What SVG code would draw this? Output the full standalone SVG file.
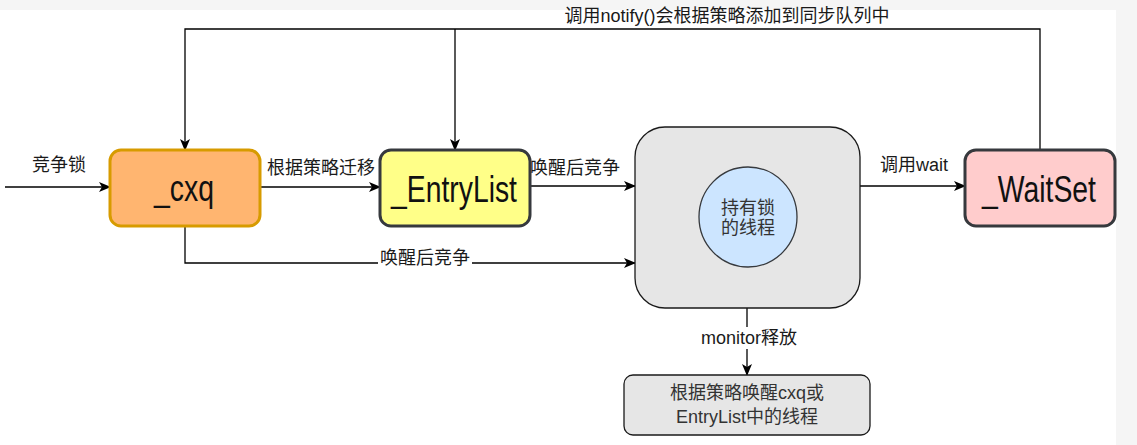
<svg xmlns="http://www.w3.org/2000/svg" width="1137" height="445" viewBox="0 0 1137 445">
<defs>
<marker id="arr" viewBox="0 0 12 10" refX="11" refY="5" markerWidth="12" markerHeight="10" markerUnits="userSpaceOnUse" orient="auto">
<path d="M0,0 L12,5 L0,10 L3,5 Z" fill="#000"/>
</marker>
</defs>
<style>
.lbl{font-family:"Liberation Sans","Noto Sans CJK SC",sans-serif;font-size:18px;fill:#1a1a1a;text-anchor:middle}
.big{font-family:"Liberation Sans",Arial,sans-serif;font-size:37px;fill:#111;text-anchor:middle}
.edge{fill:none;stroke:#000;stroke-width:1.3}
.node{stroke-width:3}
</style>
<rect x="0" y="0" width="1137" height="445" fill="#f5f5f5"/>
<rect x="0" y="10" width="1116" height="435" fill="#ffffff"/>

<g id="connectors">
<path class="edge" d="M5,187 L110,187" marker-end="url(#arr)"/>
<path class="edge" d="M260,187 L380,187" marker-end="url(#arr)"/>
<path class="edge" d="M530,186 L635,186" marker-end="url(#arr)"/>
<path class="edge" d="M185,226 L185,263 L635,263" marker-end="url(#arr)"/>
<path class="edge" d="M860,186 L965,186" marker-end="url(#arr)"/>
<path class="edge" d="M1040,150 L1040,29 L185,29 L185,150" marker-end="url(#arr)"/>
<path class="edge" d="M455,29 L455,150" marker-end="url(#arr)"/>
<path class="edge" d="M747,308 L747,375" marker-end="url(#arr)"/>
<text class="lbl" x="727" y="22">调用notify()会根据策略添加到同步队列中</text>
<text class="lbl" x="59" y="171">竞争锁</text>
<text class="lbl" x="321" y="174">根据策略迁移</text>
<text class="lbl" x="575" y="174">唤醒后竞争</text>
<text class="lbl" x="914" y="171">调用wait</text>
<rect x="378" y="248" width="94" height="20" fill="#fff"/>
<text class="lbl" x="425" y="264">唤醒后竞争</text>
<rect x="700" y="327" width="100" height="22" fill="#fff"/>
<text class="lbl" x="749" y="344">monitor释放</text>
</g>

<g id="cxq">
<rect class="node" x="110" y="150" width="150" height="76" rx="11" fill="#FFB570" stroke="#D79B00"/>
<text class="big" x="184" y="201" textLength="60" lengthAdjust="spacingAndGlyphs">_cxq</text>
</g>

<g id="entrylist">
<rect class="node" x="380" y="150" width="150" height="76" rx="11" fill="#FFFF88" stroke="#36393D"/>
<text class="big" x="454" y="202" textLength="126" lengthAdjust="spacingAndGlyphs">_EntryList</text>
</g>

<g id="monitor">
<rect x="635" y="127" width="225" height="181" rx="30" fill="#E6E6E6" stroke="#1a1a1a" stroke-width="1.3"/>
</g>

<g id="owner">
<ellipse cx="748" cy="217" rx="49" ry="50" fill="#CCE5FF" stroke="#36393D" stroke-width="1.3"/>
<text class="lbl" x="748" y="214" style="fill:#333">持有锁</text>
<text class="lbl" x="748" y="234" style="fill:#333">的线程</text>
</g>

<g id="waitset">
<rect class="node" x="965" y="150" width="150" height="76" rx="11" fill="#FFCCCC" stroke="#36393D"/>
<text class="big" x="1039" y="202" textLength="114" lengthAdjust="spacingAndGlyphs">_WaitSet</text>
</g>

<g id="wakeup">
<rect x="624" y="375" width="246" height="60" rx="9" fill="#E6E6E6" stroke="#1a1a1a" stroke-width="1.3"/>
<text class="lbl" x="747" y="399" style="fill:#333">根据策略唤醒cxq或</text>
<text class="lbl" x="747" y="423" style="fill:#333">EntryList中的线程</text>
</g>
</svg>
